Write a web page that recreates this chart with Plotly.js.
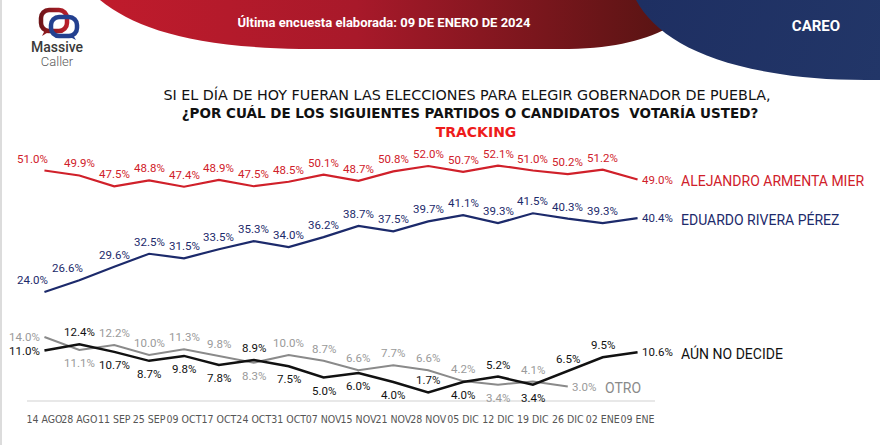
<!DOCTYPE html>
<html>
<head>
<meta charset="utf-8">
<script src="https://cdn.plot.ly/plotly-3.0.1.min.js"></script>
<style>
  html, body { margin:0; padding:0; width:880px; height:445px; overflow:hidden; background:#ffffff; }
  #bg { position:absolute; left:0; top:0; z-index:0; }
  #chart { position:absolute; left:0; top:0; width:880px; height:445px; z-index:1; }
  .txt { position:absolute; z-index:2; white-space:nowrap; transform:translate(-50%,-50%); line-height:1; }
</style>
</head>
<body>
<svg id="bg" width="880" height="445" xmlns="http://www.w3.org/2000/svg">
  <defs>
    <linearGradient id="redg" x1="100" y1="0" x2="670" y2="0" gradientUnits="userSpaceOnUse">
      <stop offset="0" stop-color="#c01b2c"/>
      <stop offset="0.45" stop-color="#a8192a"/>
      <stop offset="1" stop-color="#581413"/>
    </linearGradient>
    <linearGradient id="navyg" x1="640" y1="0" x2="880" y2="80" gradientUnits="userSpaceOnUse">
      <stop offset="0" stop-color="#1e2f62"/>
      <stop offset="1" stop-color="#223668"/>
    </linearGradient>
    <linearGradient id="ringr" x1="40" y1="0" x2="70" y2="0" gradientUnits="userSpaceOnUse">
      <stop offset="0" stop-color="#6e1518"/>
      <stop offset="1" stop-color="#c0202c"/>
    </linearGradient>
  </defs>
  <rect x="0" y="0" width="2" height="445" fill="#dcdcdc"/>
  <path d="M 100 0 C 135 28, 190 47, 300 49 L 560 49 C 610 49, 640 42, 668 28 L 668 0 Z" fill="url(#redg)"/>
  <path d="M 636 0 C 655 35, 700 62, 780 74 C 810 79, 840 80, 880 80 L 880 0 Z" fill="url(#navyg)"/>
  <rect x="41" y="10" width="26" height="21" rx="8" ry="8" fill="none" stroke="url(#ringr)" stroke-width="4.5"/>
  <path d="M 45 30 L 42 36 L 50 31" fill="#8b1a1e"/>
  <rect x="51" y="17" width="26" height="19" rx="8" ry="8" fill="none" stroke="#23408f" stroke-width="4.5"/>
  <path d="M 73 35 L 76 40 L 68 36" fill="#23408f"/>
</svg>

<div class="txt" style="left:57px; top:47px; font-family:Roboto, sans-serif; font-size:14px; color:#3a3a3a; font-weight:500;">Massive</div>
<div class="txt" style="left:57px; top:61px; font-family:Roboto, sans-serif; font-size:13px; color:#5a5a5a; font-weight:300;">Caller</div>
<div class="txt" style="left:384px; top:22px; font-family:Roboto, sans-serif; font-size:13px; color:#ffffff; font-weight:700;">Última encuesta elaborada: 09 DE ENERO DE 2024</div>
<div class="txt" style="left:816px; top:26px; font-family:Roboto, sans-serif; font-size:15px; color:#ffffff; font-weight:700;">CAREO</div>
<div class="txt" style="left:467px; top:95px; font-family:'DejaVu Sans', sans-serif; font-size:14.3px; color:#111;">SI EL DÍA DE HOY FUERAN LAS ELECCIONES PARA ELEGIR GOBERNADOR DE PUEBLA,</div>
<div class="txt" style="left:470px; top:114px; font-family:'DejaVu Sans', sans-serif; font-size:13.5px; color:#111; font-weight:700;">¿POR CUÁL DE LOS SIGUIENTES PARTIDOS O CANDIDATOS&nbsp; VOTARÍA USTED?</div>
<div class="txt" style="left:476px; top:132px; font-family:'DejaVu Sans', sans-serif; font-size:14px; color:#ee1c1c; font-weight:700;">TRACKING</div>

<div id="chart"></div>
<script>
// ---- data ----
const categories = ["14 AGO","28 AGO","11 SEP","25 SEP","09 OCT","17 OCT","24 OCT","31 OCT","07 NOV","15 NOV","21 NOV","28 NOV","05 DIC","12 DIC","19 DIC","26 DIC","02 ENE","09 ENE"];
const armenta = [51.0,49.9,47.5,48.8,47.4,48.9,47.5,48.5,50.1,48.7,50.8,52.0,50.7,52.1,51.0,50.2,51.2,49.0];
const rivera  = [24.0,26.6,29.6,32.5,31.5,33.5,35.3,34.0,36.2,38.7,37.5,39.7,41.1,39.3,41.5,40.3,39.3,40.4];
const noDecide = [11.0,12.4,10.7,8.7,9.8,7.8,8.9,7.5,5.0,6.0,4.0,1.7,4.0,5.2,3.4,6.5,9.5,10.6];
const otro = [14.0,11.1,12.2,10.0,11.3,9.8,8.3,10.0,8.7,6.6,7.7,6.6,4.2,3.4,4.1,3.0];
const seriesNames = ["ALEJANDRO ARMENTA MIER","EDUARDO RIVERA PÉREZ","AÚN NO DECIDE","OTRO"];

// ---- label placement codes ----
const posArmenta = ["TL","T","T","T","T","T","T","T","T","T","T","T","T","T","T","T","T","R"];
const posRivera  = ["TL","TL","T","T","T","T","T","T","T","T","T","T","T","T","T","T","T","R"];
const posNoDec   = ["L","T","B","B","B","B","T","B","B","B","B","T","B","T","B","T","T","R"];
const posOtro    = ["L","B","T","T","T","T","B","T","T","T","T","T","T","B","T","R"];

const cRed="#d0202a", cNavy="#1c2a6b", cBlack="#111111", cGray="#8a8a8a", cGrayTxt="#9a9a9a";
const fmt = v => v.toFixed(1) + "%";
const lblFont = "Roboto, sans-serif";

function lineTrace(vals, color, w){
  return { x: categories.slice(0, vals.length), y: vals, type:"scatter", mode:"lines",
    line:{color:color, width:w}, hoverinfo:"skip", showlegend:false };
}
const data = [
  lineTrace(otro, cGray, 2),
  lineTrace(noDecide, cBlack, 2.5),
  lineTrace(rivera, cNavy, 2.2),
  lineTrace(armenta, cRed, 2.2)
];

function labelAnns(vals, pos, color){
  return vals.map((v, i) => {
    const a = { x: categories[i], y: v, xref:"x", yref:"y", text: fmt(v), showarrow:false,
      font:{family:lblFont, size:11.5, color:color}, xanchor:"center", yanchor:"middle", xshift:0, yshift:0 };
    const p = pos[i];
    if (p === "T") { a.yshift = 12; }
    else if (p === "B") { a.yshift = -13; }
    else if (p === "L") { a.xanchor = "right"; a.xshift = -2; }
    else if (p === "R") { a.xanchor = "left"; a.xshift = 2; }
    else if (p === "TL") { a.xshift = -12; a.yshift = 12; }
    return a;
  });
}

const nameAnn = (i, xIdx, y, color, shift) => ({
  x: categories[xIdx], y: y, xref:"x", yref:"y", text: seriesNames[i], showarrow:false,
  xanchor:"left", yanchor:"middle", xshift: shift, yshift: -1,
  font:{family:lblFont, size:14, color:color}
});

const layout = {
  width:880, height:445,
  margin:{l:27, r:225, t:145, b:45},
  paper_bgcolor:"rgba(0,0,0,0)", plot_bgcolor:"rgba(0,0,0,0)",
  xaxis:{
    type:"category", range:[-0.5, 17.5], fixedrange:true,
    showgrid:false, zeroline:false, showline:true, linecolor:"#e8e8e8", linewidth:2,
    ticks:"outside", ticklen:8, tickcolor:"rgba(0,0,0,0)", tickangle:0,
    tickfont:{family:"'Liberation Sans Narrow', 'DejaVu Sans Condensed', Roboto, sans-serif", size:10.5, color:"#555"}
  },
  yaxis:{ range:[0, 56.67], visible:false, fixedrange:true },
  annotations: [].concat(
    labelAnns(otro, posOtro, cGrayTxt),
    labelAnns(noDecide, posNoDec, cBlack),
    labelAnns(rivera, posRivera, cNavy),
    labelAnns(armenta, posArmenta, cRed),
    [
      nameAnn(0, 17, armenta[17], cRed, 41),
      nameAnn(1, 17, rivera[17], cNavy, 41),
      nameAnn(2, 17, noDecide[17], cBlack, 41),
      nameAnn(3, 15, otro[15], cGray, 35)
    ]
  )
};
Plotly.newPlot("chart", data, layout, {staticPlot:true, displayModeBar:false});
</script>
</body>
</html>
